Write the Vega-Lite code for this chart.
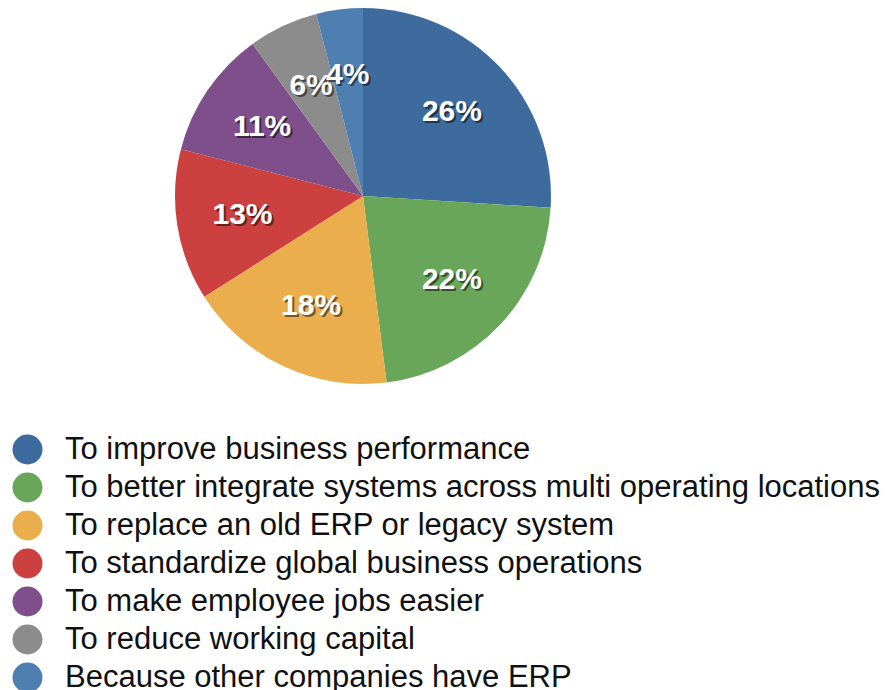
{
  "$schema": "https://vega.github.io/schema/vega-lite/v6.json",
  "width": 376,
  "height": 376,
  "autosize": {"type": "none"},
  "padding": {"left": 175, "top": 8, "right": 337, "bottom": 306},
  "background": "white",
  "config": {"view": {"stroke": null}, "font": "Liberation Sans"},
  "data": {
    "values": [
      {"reason": "To improve business performance", "pct": 26, "label": "26%", "rank": 1},
      {"reason": "To better integrate systems across multi operating locations", "pct": 22, "label": "22%", "rank": 2},
      {"reason": "To replace an old ERP or legacy system", "pct": 18, "label": "18%", "rank": 3},
      {"reason": "To standardize global business operations", "pct": 13, "label": "13%", "rank": 4},
      {"reason": "To make employee jobs easier", "pct": 11, "label": "11%", "rank": 5},
      {"reason": "To reduce working capital", "pct": 6, "label": "6%", "rank": 6},
      {"reason": "Because other companies have ERP", "pct": 4, "label": "4%", "rank": 7}
    ]
  },
  "encoding": {
    "theta": {"field": "pct", "type": "quantitative", "stack": true},
    "order": {"field": "rank", "type": "quantitative"},
    "color": {
      "field": "reason",
      "type": "nominal",
      "scale": {
        "domain": [
          "To improve business performance",
          "To better integrate systems across multi operating locations",
          "To replace an old ERP or legacy system",
          "To standardize global business operations",
          "To make employee jobs easier",
          "To reduce working capital",
          "Because other companies have ERP"
        ],
        "range": ["#3d6b9e", "#6aa65a", "#ebae4c", "#cc4140", "#7f4f8b", "#8c8c8c", "#4f7fb0"]
      },
      "legend": {
        "title": null,
        "orient": "none",
        "legendX": -163,
        "legendY": 426,
        "symbolType": "circle",
        "symbolSize": 900,
        "symbolStrokeWidth": 0,
        "labelFontSize": 31,
        "labelFont": "Liberation Sans",
        "labelColor": "#111111",
        "labelOffset": 22,
        "labelLimit": 900,
        "rowPadding": 6,
        "padding": 0
      }
    }
  },
  "layer": [
    {"mark": {"type": "arc", "outerRadius": 188, "stroke": null}},
    {
      "mark": {"type": "text", "radius": 122, "fontSize": 30, "fontWeight": "bold", "opacity": 0.5, "dx": 2, "dy": 2, "baseline": "middle", "align": "center"},
      "encoding": {"text": {"field": "label"}, "color": {"value": "#000000"}}
    },
    {
      "mark": {"type": "text", "radius": 122, "fontSize": 30, "fontWeight": "bold", "baseline": "middle", "align": "center"},
      "encoding": {"text": {"field": "label"}, "color": {"value": "#ffffff"}}
    }
  ]
}
